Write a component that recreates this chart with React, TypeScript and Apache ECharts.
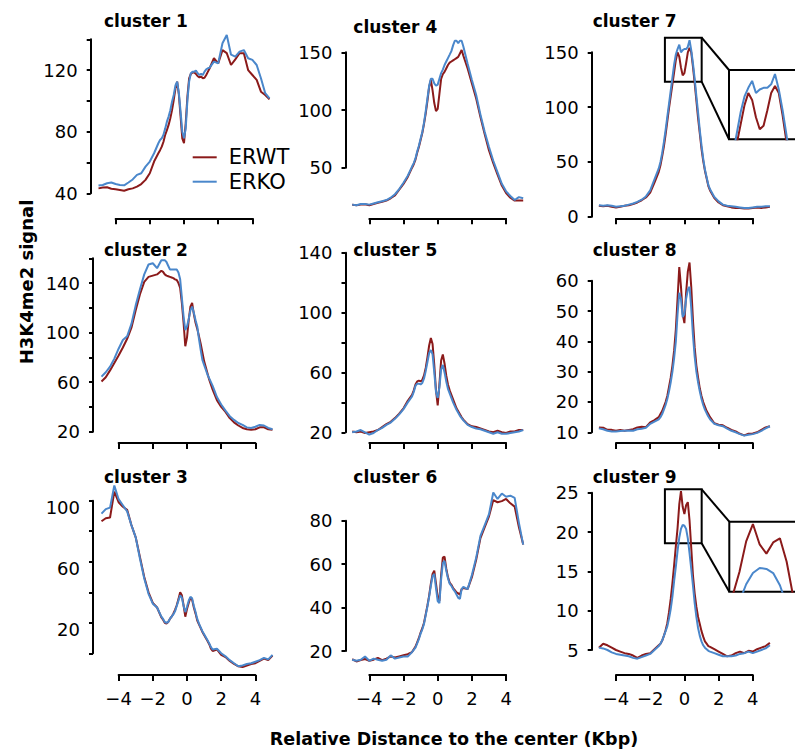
import React, { useEffect, useRef } from "react";
import * as echarts from "echarts";

// ---------- data ----------
const X = [
  -5, -4.75, -4.5, -4.25, -4, -3.75, -3.5, -3.25, -3, -2.75, -2.5, -2.25, -2, -1.75,
  -1.5, -1.4, -1.3, -1.2, -1.1, -1, -0.9, -0.8, -0.7, -0.6, -0.5, -0.4, -0.3, -0.2, -0.1, 0,
  0.1, 0.2, 0.3, 0.4, 0.5, 0.6, 0.7, 0.8, 0.9, 1, 1.1, 1.2, 1.3, 1.4, 1.5,
  1.75, 2, 2.25, 2.5, 2.75, 3, 3.25, 3.5, 3.75, 4, 4.25, 4.5, 4.75, 5,
];

const ERWT_C1 = [
  43.2, 43.7, 43.9, 43, 42.6, 42.2, 41.7, 42.6, 43.2, 44.3, 46, 48.7, 53, 60.6,
  66, 68, 70.3, 73.5, 78, 81, 84.4, 88.7, 94, 100.6, 108, 112.5, 104, 90, 75.7, 72.5, 85.5, 102.8, 114.7, 117.5, 118.4, 118.4, 117.5, 116, 115.3, 115.8, 114.7, 115, 116.8, 119, 121.2,
  127.7, 124.4, 133, 131, 123.3, 127, 131, 131, 120, 116.8, 113.6, 106, 103.8, 101,
];
const ERKO_C1 = [
  45, 45.4, 46.5, 47, 46, 45.4, 45.2, 47, 49, 52, 53, 57.3, 60.6, 66,
  72.5, 74.6, 75.7, 78, 82, 86.5, 89.8, 94, 99.5, 103.8, 110, 112.5, 105, 93, 80, 75.7, 82, 100.6, 112.5, 118, 119, 119, 119.7, 118, 116.8, 117.5, 116.8, 119, 120.5, 121.2, 121.6,
  125.5, 124.4, 137.4, 142.8, 130, 128.7, 132, 133, 127.7, 126.6, 123.3, 114.7, 105, 101.7,
];
const ERWT_C4 = [
  17.8, 17.5, 18, 18.3, 17.5, 18.5, 19.5, 20.5, 21.5, 23.5, 26, 31, 36, 42,
  50, 53, 57, 63, 68, 74, 80, 88, 97, 108, 120, 126, 117, 106, 99, 101, 114, 127, 131, 133, 136, 139, 141, 142, 143, 144, 145, 146, 149, 152, 147,
  136, 123, 110, 94, 79, 65, 54, 44, 34.5, 28, 24, 21.5, 21.5, 21.5,
];
const ERKO_C4 = [
  18, 17.5, 18.5, 18.5, 18, 19, 20, 21, 22, 24, 27, 31.5, 37, 43,
  51, 54, 58, 64, 69, 75, 81, 89, 99, 110, 121, 127, 127, 123, 121, 122, 127, 132, 135, 139, 142, 145, 148, 151, 156, 160, 160, 158, 160, 160, 155,
  140, 126, 113, 96, 81, 68, 56, 46, 36, 29.5, 25.5, 22, 24.5, 23.5,
];
const ERWT_C7 = [
  10, 9.5, 10, 9, 8.5, 9, 10, 10.5, 11.5, 13, 15, 17.5, 22, 31,
  41, 47, 55, 64, 75, 87, 99, 110, 121, 132, 143, 150, 146, 136, 129, 131, 140, 150, 154, 150, 137, 122, 106, 90, 76, 62, 51, 42, 35, 28, 24,
  17, 13, 10.5, 9.5, 8.5, 8, 8, 7.5, 7.5, 8, 8.5, 8, 8.5, 9,
];
const ERKO_C7 = [
  10.5, 10, 10.5, 10, 9, 9.5, 10, 11, 12, 13.5, 15.5, 18.5, 24, 34,
  44, 50, 58, 68, 79, 91, 103, 115, 127, 139, 148, 153, 157, 150, 152, 153, 153, 155, 161, 152, 140, 126, 110, 95, 79, 65, 53, 43, 36, 29, 25,
  18, 14, 11, 10, 9.5, 9, 8.5, 8, 8, 8.5, 9, 9, 9.5, 9.5,
];
const ERWT_C2 = [
  60.5, 64, 69.5, 75.5, 81.5, 88, 95, 104, 118, 131, 141, 145, 146, 147,
  150, 149, 147, 146, 145.5, 145, 144.5, 144, 143, 142.5, 140, 136, 124, 108, 89, 96, 110, 121, 124, 115, 108, 103, 97, 91, 84, 77, 72, 67, 62, 58, 54,
  45.5, 40, 36, 31, 27.5, 25, 23, 22, 21.5, 22, 23.5, 23.5, 22, 21.5,
];
const ERKO_C2 = [
  64.5, 68, 72.5, 79, 87, 94, 97, 107, 122, 135, 147, 155, 156, 152,
  158.5, 158.5, 158.5, 157, 154, 151, 151, 151, 151, 151, 148.5, 143, 128, 113, 102, 105, 111, 118, 121, 116, 110, 105, 95, 86, 78, 74, 70, 66, 63, 60, 57,
  48, 42, 37, 32.5, 29.5, 27, 25.5, 23.5, 23, 24, 25.5, 25, 23, 22,
];
const ERWT_C5 = [
  20.5, 20, 20.5, 19.5, 20, 20.5, 21.5, 23.5, 25.5, 27, 29.5, 32.5, 36, 41,
  45, 48, 52, 54, 54.5, 54, 55, 58, 63, 70, 78, 83, 79, 65, 48, 38, 52, 68, 72, 66, 58, 52, 48, 45, 42, 39, 36, 34, 32, 30, 28.5,
  25.5, 24, 23.5, 22.5, 21.5, 20.5, 20, 21, 20, 19.5, 20.5, 20.5, 21.5, 21.5,
];
const ERKO_C5 = [
  20, 20.5, 21.5, 20, 18.5, 19.5, 21.5, 23, 25, 26.5, 29, 32, 35.5, 40,
  44, 47, 51, 52.5, 52.5, 52, 53, 56, 61, 67, 73, 75, 72, 60, 47, 43, 50, 62, 65, 60, 54, 49, 46, 43, 40, 37.5, 35, 33, 31, 29.5, 28,
  25, 23.5, 22.5, 22, 21, 20, 19, 20, 19, 19, 19.5, 20, 20.5, 21.5,
];
const ERWT_C8 = [
  11.6, 11.5, 10.8, 10.8, 10.5, 10.8, 10.5, 10.8, 11, 11.6, 11.8, 11.7, 13.3, 14,
  15, 16, 17, 18.5, 20, 22, 25, 28, 32, 37, 44, 54, 64.5, 58, 49, 46, 56, 63, 66, 58, 47, 38, 32, 28, 24.5, 22, 20, 18.5, 17, 16, 15,
  13, 12.5, 12.3, 11.5, 10.8, 10.3, 9.5, 9, 9.5, 9.6, 10, 10.8, 11.6, 12,
];
const ERKO_C8 = [
  11.3, 11, 10.5, 10.3, 10.3, 10.4, 10.5, 10.6, 10.5, 11, 11.2, 11.5, 12.8, 13.5,
  14.3, 15, 16, 17.5, 19, 21, 23.5, 26.5, 30, 34.5, 40, 49, 56, 54, 48, 49, 54, 57, 58, 51, 42, 35, 30, 26.5, 23.5, 21, 19, 17.5, 16.3, 15.2, 14.3,
  12.8, 12.3, 12, 11.2, 10.5, 10, 9.4, 8.9, 9.2, 9.4, 9.8, 10.5, 11.3, 12,
];
const ERWT_C3 = [
  86.5, 88.5, 89, 106, 99, 96, 94, 84, 76, 63, 50, 40, 33, 30,
  23.5, 22, 20, 19.5, 20.5, 22.5, 24, 26, 28.5, 31.5, 35.5, 40, 38, 31.5, 24, 29, 33, 36.5, 35, 30, 26, 21.5, 19, 16.5, 14, 12, 10, 8, 6, 3, 1.5,
  2.5, -1, -2.5, -5, -7, -8.5, -9, -8, -7, -6.5, -5, -3.5, -4.5, -1.5,
];
const ERKO_C3 = [
  91.5, 94.5, 95.5, 110, 101, 97, 93, 84, 76, 62, 49, 39, 32.5, 30,
  24, 22.5, 20.5, 20, 20.5, 22.5, 24, 25.5, 27.5, 31, 34.5, 38, 36.5, 31, 27, 30.5, 34.5, 37, 36, 31, 27, 22.5, 19.5, 17, 14.5, 12.5, 10.5, 8.5, 6.5, 4, 2.5,
  3, 0, -2, -4.5, -6.5, -8.5, -8, -7, -6.5, -5.5, -4.5, -3, -4, -1,
];
const ERWT_C6 = [
  16.2, 15.2, 15.8, 16.3, 15.5, 16, 16.8, 15.8, 16.5, 17.5, 17, 17.5, 18, 18.5,
  19.5, 20.8, 22, 24, 26, 28.5, 30.5, 33, 37, 41, 45.5, 51, 55.5, 57, 51, 45, 43, 55, 63, 63.5, 58, 54, 51.5, 50.5, 49, 48, 47, 46.5, 46, 48.5, 49,
  48.5, 54, 62, 72, 77, 82, 89.5, 88.5, 89, 90, 88, 86.5, 77, 69,
];
const ERKO_C6 = [
  16, 15.5, 16, 17.5, 15.5, 16.5, 16, 15.5, 16, 18, 16.5, 17, 17.5, 17.5,
  19.5, 20.5, 21.5, 23.5, 25.5, 28, 30, 32.5, 36.5, 40.5, 45, 50, 54.5, 55.5, 49, 43, 42, 53, 60.5, 61.5, 57, 53.5, 51, 50, 48.5, 47.5, 46, 44.5, 44, 48.5, 49.5,
  48.5, 55, 63, 73, 78, 83, 93, 90, 92.5, 91, 91.5, 90.5, 79, 69,
];
const ERWT_C9 = [
  5.3, 5.8, 5.6, 5.3, 5, 4.8, 4.6, 4.5, 4.3, 4, 4.3, 4.5, 4.6, 5.1,
  5.6, 5.8, 6.2, 6.8, 7.5, 8.4, 9.8, 11.5, 13.5, 15.8, 18.2, 20.5, 23.5, 25.2, 23.2, 22.3, 23.4, 23.8, 21.5, 18, 14.5, 12.2, 10.5, 9.2, 8.3, 7.4, 6.7, 6.1, 5.8, 5.5, 5.4,
  5.1, 4.8, 4.5, 4.2, 4.3, 4.6, 4.8, 4.6, 4.9, 4.8, 5.1, 5.3, 5.5, 5.9,
];
const ERKO_C9 = [
  5.3, 5.2, 5, 4.7, 4.5, 4.4, 4.3, 4.2, 4, 3.9, 4.1, 4.3, 4.5, 5,
  5.5, 5.8, 6.2, 6.8, 7.4, 8, 9, 10.2, 11.8, 13.8, 15.6, 17.6, 19.3, 20.4, 20.9, 20.8, 20.4, 19.2, 17.3, 15.3, 13.2, 11, 9.2, 7.8, 6.8, 6.1, 5.6, 5.3, 5.1, 4.9, 4.8,
  4.6, 4.4, 4.2, 4.2, 4.2, 4.3, 4.5, 4.6, 4.8, 4.6, 4.8, 5, 5.2, 5.6,
];

// axis ranges / ticks
const X_TICKS = [-4, 4];
const X_STEP = 2;
const X_DATA_RANGE = [-5.2, 5.2];
const Y_RANGE_C1 = [40, 140]; const Y_STEP_C1 = 20; const Y_LABELS_C1 = [40, 80, 120];
const Y_RANGE_C4 = [50, 150]; const Y_STEP_C4 = 50; const Y_LABELS_C4 = [50, 100, 150];
const Y_RANGE_C7 = [0, 150]; const Y_STEP_C7 = 50; const Y_LABELS_C7 = [0, 50, 100, 150];
const Y_RANGE_C2 = [20, 160]; const Y_STEP_C2 = 20; const Y_LABELS_C2 = [20, 60, 100, 140];
const Y_RANGE_C5 = [20, 140]; const Y_STEP_C5 = 20; const Y_LABELS_C5 = [20, 60, 100, 140];
const Y_RANGE_C8 = [10, 60]; const Y_STEP_C8 = 10; const Y_LABELS_C8 = [10, 20, 30, 40, 50, 60];
const Y_RANGE_C3 = [0, 100]; const Y_STEP_C3 = 20; const Y_LABELS_C3 = [20, 60, 100];
const Y_RANGE_C6 = [20, 80]; const Y_STEP_C6 = 20; const Y_LABELS_C6 = [20, 40, 60, 80];
const Y_RANGE_C9 = [5, 25]; const Y_STEP_C9 = 5; const Y_LABELS_C9 = [5, 10, 15, 20, 25];

// zoom insets (data space)
const BOX_C7_X = [-1.14, 1.01]; const BOX_C7_Y = [123.2, 163.3]; const ZOOM_C7_X = [-0.907, 0.983];
const BOX_C9_X = [-1.14, 1.01]; const BOX_C9_Y = [18.57, 25.43]; const ZOOM_C9_X = [-0.55, 0.517];

const SERIES_NAMES = ["ERWT", "ERKO"];

// ---------- styling / layout ----------
const FONT = "'DejaVu Sans', 'Liberation Sans', sans-serif";
const RED = "#8B1A1A";
const BLUE = "#4A87CB";
const PX_PER_KB = 17.1;
const CENTRAL = 0.346;

type Panel = {
  title: string; wt: number[]; ko: number[];
  yRange: number[]; yStep: number; yLabels: number[];
  x0: number; yPx: number[]; axisX: number; axisY: number;
  xLabels: boolean; titlePos: number[]; labelShift?: number;
};

const PANELS: Panel[] = [
  { title: "cluster 1", wt: ERWT_C1, ko: ERKO_C1, yRange: Y_RANGE_C1, yStep: Y_STEP_C1, yLabels: Y_LABELS_C1, x0: 184, yPx: [193.3, 39.3], axisX: 90.7, axisY: 218.3, xLabels: false, titlePos: [104, 26.7] },
  { title: "cluster 4", wt: ERWT_C4, ko: ERKO_C4, yRange: Y_RANGE_C4, yStep: Y_STEP_C4, yLabels: Y_LABELS_C4, x0: 437.7, yPx: [167.7, 52.3], axisX: 345.5, axisY: 218.3, xLabels: false, titlePos: [353.3, 33.3] },
  { title: "cluster 7", wt: ERWT_C7, ko: ERKO_C7, yRange: Y_RANGE_C7, yStep: Y_STEP_C7, yLabels: Y_LABELS_C7, x0: 684.4, yPx: [216.7, 52.3], axisX: 591.7, axisY: 218.3, xLabels: false, titlePos: [592.7, 27.3] },
  { title: "cluster 2", wt: ERWT_C2, ko: ERKO_C2, yRange: Y_RANGE_C2, yStep: Y_STEP_C2, yLabels: Y_LABELS_C2, x0: 187, yPx: [431.7, 258.3], axisX: 93, axisY: 443, xLabels: false, titlePos: [104, 256] },
  { title: "cluster 5", wt: ERWT_C5, ko: ERKO_C5, yRange: Y_RANGE_C5, yStep: Y_STEP_C5, yLabels: Y_LABELS_C5, x0: 437.7, yPx: [432.3, 252.7], axisX: 345.5, axisY: 443, xLabels: false, titlePos: [353.3, 256] },
  { title: "cluster 8", wt: ERWT_C8, ko: ERKO_C8, yRange: Y_RANGE_C8, yStep: Y_STEP_C8, yLabels: Y_LABELS_C8, x0: 684.4, yPx: [432.3, 280.7], axisX: 591.7, axisY: 443, xLabels: false, titlePos: [592.7, 256] },
  { title: "cluster 3", wt: ERWT_C3, ko: ERKO_C3, yRange: Y_RANGE_C3, yStep: Y_STEP_C3, yLabels: Y_LABELS_C3, x0: 187, yPx: [653.3, 500.7], axisX: 93, axisY: 675, xLabels: true, titlePos: [104, 482.7], labelShift: 7 },
  { title: "cluster 6", wt: ERWT_C6, ko: ERKO_C6, yRange: Y_RANGE_C6, yStep: Y_STEP_C6, yLabels: Y_LABELS_C6, x0: 437.7, yPx: [651, 520.7], axisX: 345.5, axisY: 675, xLabels: true, titlePos: [353.3, 482.7] },
  { title: "cluster 9", wt: ERWT_C9, ko: ERKO_C9, yRange: Y_RANGE_C9, yStep: Y_STEP_C9, yLabels: Y_LABELS_C9, x0: 684.4, yPx: [650, 492.7], axisX: 591.7, axisY: 675, xLabels: true, titlePos: [592.7, 483.3] },
];

const INSETS = [
  { panel: 2, boxX: BOX_C7_X, boxY: BOX_C7_Y, zoomX: ZOOM_C7_X, rect: { left: 729, top: 70, width: 72, height: 69.3 } },
  { panel: 8, boxX: BOX_C9_X, boxY: BOX_C9_Y, zoomX: ZOOM_C9_X, rect: { left: 729.3, top: 521.7, width: 72, height: 70 } },
];

const fmtX = (v: number) => (v < 0 ? "\u2212" + Math.abs(v) : String(v));

function lineSeries(name: string, vals: number[], gi: number, color: string) {
  return {
    type: "line", name, xAxisIndex: gi, yAxisIndex: gi,
    data: X.map((x, i) => [x, vals[i]]),
    symbol: "none", showSymbol: false, clip: true, silent: true,
    lineStyle: { color, width: 2 }, itemStyle: { color },
    emphasis: { disabled: true }, z: color === BLUE ? 3 : 2,
  };
}

function buildOption() {
  const grid: any[] = [], xAxis: any[] = [], yAxis: any[] = [], series: any[] = [], elements: any[] = [];
  const axisLineStyle = { color: "#000", width: 2 };
  const labelStyle = { color: "#000", fontSize: 18, fontFamily: FONT };
  const hidden = { show: false, axisLine: { show: false }, axisTick: { show: false }, axisLabel: { show: false }, splitLine: { show: false } };

  PANELS.forEach((p) => {
    const ypx = (v: number) => p.yPx[0] - ((v - p.yRange[0]) * (p.yPx[0] - p.yPx[1])) / (p.yRange[1] - p.yRange[0]);
    // axis grid (visible R-style axes)
    let gi = grid.length;
    const left = p.x0 + X_TICKS[0] * PX_PER_KB;
    const width = (X_TICKS[1] - X_TICKS[0]) * PX_PER_KB;
    const top = p.yPx[1];
    const height = p.yPx[0] - p.yPx[1];
    grid.push({ left, top, width, height, containLabel: false, outerBoundsMode: "none" });
    xAxis.push({
      type: "value", gridIndex: gi, min: X_TICKS[0], max: X_TICKS[1], interval: X_STEP,
      position: "bottom", offset: p.axisY - (top + height),
      axisLine: { show: true, onZero: false, lineStyle: axisLineStyle },
      axisTick: { show: true, length: 6, inside: false, lineStyle: axisLineStyle },
      axisLabel: { show: p.xLabels, margin: 14, formatter: fmtX, ...labelStyle },
      splitLine: { show: false },
    });
    const shiftStyle = p.labelShift ? { verticalAlign: "top", lineHeight: p.labelShift * 2 } : {};
    yAxis.push({
      type: "value", gridIndex: gi, min: p.yRange[0], max: p.yRange[1], interval: p.yStep,
      position: "left", offset: left - p.axisX,
      axisLine: { show: true, onZero: false, lineStyle: axisLineStyle },
      axisTick: { show: true, length: 4, inside: false, lineStyle: axisLineStyle },
      axisLabel: {
        show: true, margin: 13,
        formatter: (v: number) => (p.yLabels.includes(v) ? String(v) : ""),
        ...labelStyle, ...shiftStyle,
      },
      splitLine: { show: false },
    });
    // data grid (same scale, wider extent so the curves run past the axes)
    gi = grid.length;
    const span = p.yRange[1] - p.yRange[0];
    const yLo = p.yRange[0] - span * 0.6;
    const yHi = p.yRange[1] + span * 0.6;
    const dl = p.x0 + X_DATA_RANGE[0] * PX_PER_KB;
    const dw = (X_DATA_RANGE[1] - X_DATA_RANGE[0]) * PX_PER_KB;
    grid.push({ left: dl, top: ypx(yHi), width: dw, height: ypx(yLo) - ypx(yHi), containLabel: false, outerBoundsMode: "none" });
    xAxis.push({ type: "value", gridIndex: gi, min: X_DATA_RANGE[0], max: X_DATA_RANGE[1], ...hidden });
    yAxis.push({ type: "value", gridIndex: gi, min: yLo, max: yHi, ...hidden });
    series.push(lineSeries(SERIES_NAMES[0], p.wt, gi, RED));
    series.push(lineSeries(SERIES_NAMES[1], p.ko, gi, BLUE));
    elements.push({
      type: "text", x: p.titlePos[0], y: p.titlePos[1] - CENTRAL * 17, silent: true,
      style: { text: p.title, fontSize: 17, fontWeight: "bold", fontFamily: FONT, fill: "#000", align: "left", verticalAlign: "middle" },
    });
  });

  INSETS.forEach((ins) => {
    const p = PANELS[ins.panel];
    const ypx = (v: number) => p.yPx[0] - ((v - p.yRange[0]) * (p.yPx[0] - p.yPx[1])) / (p.yRange[1] - p.yRange[0]);
    const bl = p.x0 + ins.boxX[0] * PX_PER_KB;
    const br = p.x0 + ins.boxX[1] * PX_PER_KB;
    const bt = ypx(ins.boxY[1]);
    const bb = ypx(ins.boxY[0]);
    // small box
    let gi = grid.length;
    grid.push({ left: bl, top: bt, width: br - bl, height: bb - bt, show: true, backgroundColor: "transparent", borderColor: "#000", borderWidth: 2, outerBoundsMode: "none" });
    xAxis.push({ type: "value", gridIndex: gi, min: ins.boxX[0], max: ins.boxX[1], ...hidden });
    yAxis.push({ type: "value", gridIndex: gi, min: ins.boxY[0], max: ins.boxY[1], ...hidden });
    // zoomed inset
    gi = grid.length;
    const r = ins.rect;
    grid.push({ left: r.left, top: r.top, width: r.width, height: r.height, show: true, backgroundColor: "#fff", borderColor: "#000", borderWidth: 2, outerBoundsMode: "none" });
    xAxis.push({ type: "value", gridIndex: gi, min: ins.zoomX[0], max: ins.zoomX[1], ...hidden });
    yAxis.push({ type: "value", gridIndex: gi, min: ins.boxY[0], max: ins.boxY[1], ...hidden });
    series.push(lineSeries(SERIES_NAMES[0], p.wt, gi, RED));
    series.push(lineSeries(SERIES_NAMES[1], p.ko, gi, BLUE));
    // connectors
    elements.push({ type: "line", silent: true, shape: { x1: br, y1: bt, x2: r.left, y2: r.top }, style: { stroke: "#000", lineWidth: 2 } });
    elements.push({ type: "line", silent: true, shape: { x1: br, y1: bb, x2: r.left, y2: r.top + r.height }, style: { stroke: "#000", lineWidth: 2 } });
  });

  elements.push({
    type: "text", x: 26, y: 282, rotation: Math.PI / 2, silent: true,
    style: { text: "H3K4me2 signal", fontSize: 18, fontWeight: "bold", fontFamily: FONT, fill: "#000", align: "center", verticalAlign: "middle" },
  });
  elements.push({
    type: "text", x: 454, y: 745 - CENTRAL * 17.5, silent: true,
    style: { text: "Relative Distance to the center (Kbp)", fontSize: 17.5, fontWeight: "bold", fontFamily: FONT, fill: "#000", align: "center", verticalAlign: "middle" },
  });

  return {
    animation: false,
    backgroundColor: "#fff",
    grid, xAxis, yAxis, series,
    legend: {
      data: SERIES_NAMES, orient: "vertical", left: 192.7, top: 146.8,
      icon: "rect", itemWidth: 24, itemHeight: 2, itemGap: 3.4, padding: 0, selectedMode: false,
      formatter: (n: string) => `{t|${n}}`,
      textStyle: {
        color: "#000", fontSize: 21, fontFamily: FONT,
        rich: { t: { color: "#000", fontSize: 21, fontFamily: FONT, lineHeight: 21, padding: [0, 0, 0, 7] } },
      },
    },
    graphic: { elements },
  };
}

export default function App() {
  const ref = useRef<HTMLDivElement>(null);
  useEffect(() => {
    if (!ref.current) return;
    const chart = echarts.init(ref.current, undefined, { renderer: "svg", width: 795, height: 753 });
    chart.setOption(buildOption() as any);
    return () => chart.dispose();
  }, []);
  return <div ref={ref} style={{ position: "absolute", left: 0, top: 0, width: 795, height: 753, background: "#fff" }} />;
}
